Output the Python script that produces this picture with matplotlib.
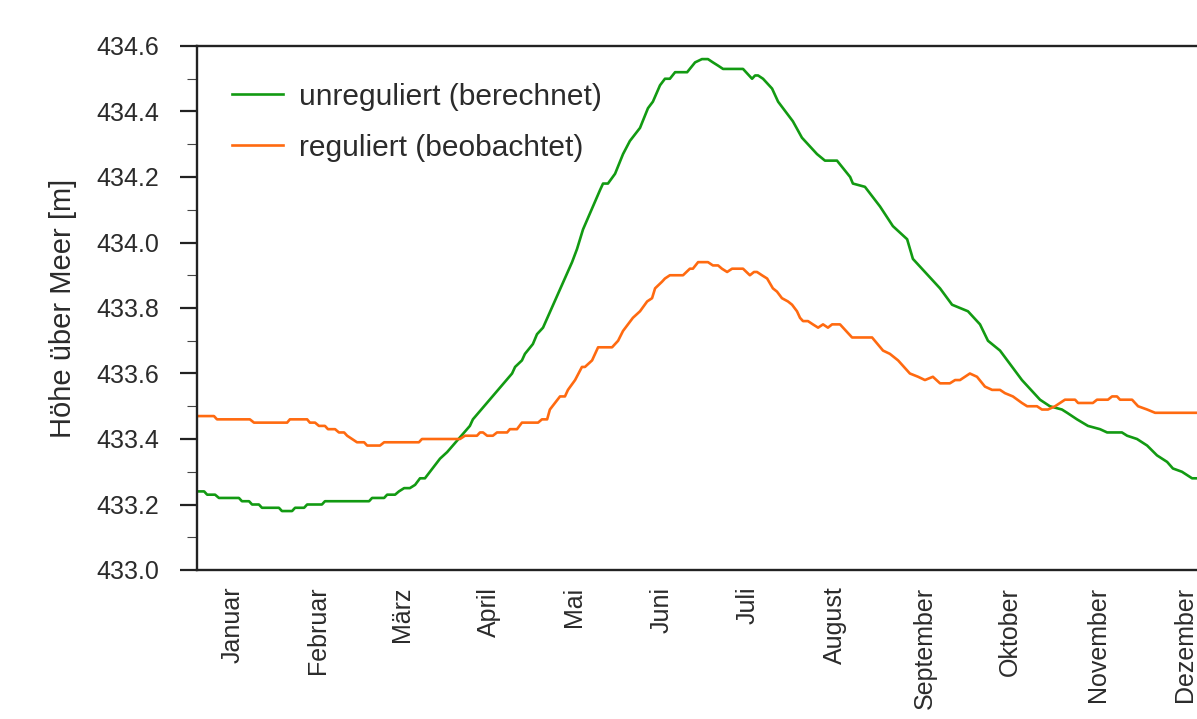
import numpy as np
import matplotlib
matplotlib.use("Agg")
import matplotlib.pyplot as plt
from matplotlib.ticker import MultipleLocator, FormatStrFormatter

# ---------------------------------------------------------------------------------------------------------------------
# DATA (day of year, lake level in m above sea level)
# ---------------------------------------------------------------------------------------------------------------------
UNREG_DAYS = [0, 2.6, 3.7, 6.6, 8.0, 15.3, 16.4, 19.0, 20.1, 22.6, 23.7, 29.9, 31.0, 34.7, 35.8, 39.1, 40.2, 45.6,
              46.7, 62.8, 63.9, 68.3, 69.4, 72.3, 73.7, 75.6, 77.7, 79.6, 81.4, 83.2, 88.7, 91.3, 99.6, 100.7,
              115.0, 116.1, 118.6, 119.7, 122.6, 124.1, 126.3, 136.9, 138.7, 140.9, 147.1, 148.2, 150.0, 152.6,
              155.5, 158.0, 161.7, 164.6, 166.4, 169.0, 170.8, 172.6, 174.5, 178.9, 181.8, 184.3, 186.5, 188.3,
              190.2, 192.0, 199.3, 202.6, 203.7, 204.8, 206.6, 209.9, 212.1, 217.5, 220.8, 226.3, 229.2, 233.6,
              238.4, 239.4, 243.8, 249.3, 254.0, 259.2, 261.3, 271.2, 275.6, 281.4, 285.8, 288.7, 293.1, 301.1,
              307.7, 311.3, 315.7, 317.6, 321.2, 325.2, 329.6, 332.2, 337.6, 339.5, 343.1, 346.8, 350.4, 354.1,
              356.2, 359.5, 363.2, 365]
UNREG_LEVEL = [433.24, 433.24, 433.23, 433.23, 433.22, 433.22, 433.21, 433.21, 433.20, 433.20, 433.19, 433.19,
               433.18, 433.18, 433.19, 433.19, 433.20, 433.20, 433.21, 433.21, 433.22, 433.22, 433.23, 433.23,
               433.24, 433.25, 433.25, 433.26, 433.28, 433.28, 433.34, 433.36, 433.44, 433.46, 433.60, 433.62,
               433.64, 433.66, 433.69, 433.72, 433.74, 433.94, 433.98, 434.04, 434.16, 434.18, 434.18, 434.21,
               434.27, 434.31, 434.35, 434.41, 434.43, 434.48, 434.50, 434.50, 434.52, 434.52, 434.55, 434.56,
               434.56, 434.55, 434.54, 434.53, 434.53, 434.50, 434.51, 434.51, 434.50, 434.47, 434.43, 434.37,
               434.32, 434.27, 434.25, 434.25, 434.20, 434.18, 434.17, 434.11, 434.05, 434.01, 433.95, 433.86,
               433.81, 433.79, 433.75, 433.70, 433.67, 433.58, 433.52, 433.50, 433.49, 433.48, 433.46, 433.44,
               433.43, 433.42, 433.42, 433.41, 433.40, 433.38, 433.35, 433.33, 433.31, 433.30, 433.28, 433.28]

REG_DAYS = [0, 6.2, 7.3, 19.3, 20.8, 32.9, 33.9, 40.2, 41.2, 43.1, 44.5, 46.7, 47.8, 50.4, 51.8, 53.7, 54.8, 56.6,
            58.4, 61.0, 62.1, 66.8, 68.3, 81.0, 82.1, 96.0, 97.8, 102.2, 103.3, 104.4, 105.9, 108.0, 109.5, 113.2,
            114.2, 116.8, 118.6, 124.5, 125.9, 127.8, 128.8, 132.5, 134.3, 135.4, 138.0, 140.5, 141.6, 144.2,
            146.4, 151.5, 153.7, 155.5, 157.3, 159.1, 161.7, 164.3, 166.1, 167.2, 169.7, 170.8, 172.6, 177.4,
            179.9, 181.0, 182.9, 186.5, 188.3, 190.2, 191.6, 193.5, 195.3, 199.3, 201.8, 203.3, 204.4, 206.2,
            208.1, 210.2, 211.7, 213.5, 215.7, 217.2, 219.0, 220.1, 221.2, 223.0, 224.8, 226.7, 228.5, 230.3,
            231.8, 234.7, 239.1, 246.4, 250.4, 252.9, 255.9, 260.2, 263.2, 265.7, 268.6, 271.2, 274.8, 276.7,
            278.5, 282.1, 284.7, 287.6, 290.2, 293.1, 294.9, 297.8, 301.1, 303.0, 306.6, 308.4, 310.6, 313.2,
            316.8, 320.5, 321.6, 327.0, 328.5, 332.5, 334.0, 335.8, 336.9, 341.3, 343.5, 346.8, 349.7, 365]
REG_LEVEL = [433.47, 433.47, 433.46, 433.46, 433.45, 433.45, 433.46, 433.46, 433.45, 433.45, 433.44, 433.44,
             433.43, 433.43, 433.42, 433.42, 433.41, 433.40, 433.39, 433.39, 433.38, 433.38, 433.39, 433.39,
             433.40, 433.40, 433.41, 433.41, 433.42, 433.42, 433.41, 433.41, 433.42, 433.42, 433.43, 433.43,
             433.45, 433.45, 433.46, 433.46, 433.49, 433.53, 433.53, 433.55, 433.58, 433.62, 433.62, 433.64,
             433.68, 433.68, 433.70, 433.73, 433.75, 433.77, 433.79, 433.82, 433.83, 433.86, 433.88, 433.89,
             433.90, 433.90, 433.92, 433.92, 433.94, 433.94, 433.93, 433.93, 433.92, 433.91, 433.92, 433.92,
             433.90, 433.91, 433.91, 433.90, 433.89, 433.86, 433.85, 433.83, 433.82, 433.81, 433.79, 433.77,
             433.76, 433.76, 433.75, 433.74, 433.75, 433.74, 433.75, 433.75, 433.71, 433.71, 433.67, 433.66,
             433.64, 433.60, 433.59, 433.58, 433.59, 433.57, 433.57, 433.58, 433.58, 433.60, 433.59, 433.56,
             433.55, 433.55, 433.54, 433.53, 433.51, 433.50, 433.50, 433.49, 433.49, 433.50, 433.52, 433.52,
             433.51, 433.51, 433.52, 433.52, 433.53, 433.53, 433.52, 433.52, 433.50, 433.49, 433.48, 433.48]

MONTHS = ['Januar', 'Februar', 'März', 'April', 'Mai', 'Juni', 'Juli', 'August', 'September', 'Oktober',
          'November', 'Dezember']
MONTH_POS = [12.8, 44.2, 74.8, 106.6, 137.6, 169.4, 201.0, 232.9, 265.7, 296.7, 328.9, 360.6]

GREEN = '#129a12'
ORANGE = '#ff6a10'
TEXT = '#2b2b2b'

plt.rcParams['font.family'] = ['Liberation Sans', 'DejaVu Sans']


def main():
    fig = plt.figure(figsize=(11.97, 7.19), dpi=100)
    ax = fig.add_axes([197 / 1197, 149 / 719, 1000 / 1197, 524 / 719])

    ax.plot(UNREG_DAYS, UNREG_LEVEL, color=GREEN, lw=1.9, label='unreguliert (berechnet)')
    ax.plot(REG_DAYS, REG_LEVEL, color=ORANGE, lw=1.9, label='reguliert (beobachtet)')

    ax.set_xlim(0, 365)
    ax.set_ylim(433.0, 434.6)

    # y axis: major every 0.2, minor every 0.1
    ax.yaxis.set_major_locator(MultipleLocator(0.2))
    ax.yaxis.set_minor_locator(MultipleLocator(0.1))
    ax.yaxis.set_major_formatter(FormatStrFormatter('%.1f'))
    ax.tick_params(axis='y', which='major', length=12, width=1.6, color='#222222', pad=15,
                   labelsize=18, labelcolor=TEXT)
    ax.tick_params(axis='y', which='minor', length=7, width=0.8, color='#444444')

    # month names centred in each month, no tick marks
    ax.set_xticks(MONTH_POS)
    ax.set_xticklabels(MONTHS, rotation=90, va='top', ha='center')
    ax.tick_params(axis='x', length=0, pad=12, labelsize=18, labelcolor=TEXT)

    ax.set_ylabel('Höhe über Meer [m]', fontsize=21, color=TEXT, labelpad=14)

    for side in ['left', 'top', 'bottom']:
        ax.spines[side].set_linewidth(1.7)
        ax.spines[side].set_color('#222222')
    ax.spines['right'].set_visible(False)

    leg = ax.legend(loc='upper left', bbox_to_anchor=(0.023, 0.953), fontsize=21.5, frameon=True,
                    facecolor='white', edgecolor='none', framealpha=1.0, handlelength=1.7,
                    handletextpad=0.55, labelspacing=0.78, borderpad=0.4, borderaxespad=0)
    for txt in leg.get_texts():
        txt.set_color(TEXT)

    fig.savefig('out.png', dpi=100)
    plt.close(fig)


if __name__ == "__main__":
    main()
